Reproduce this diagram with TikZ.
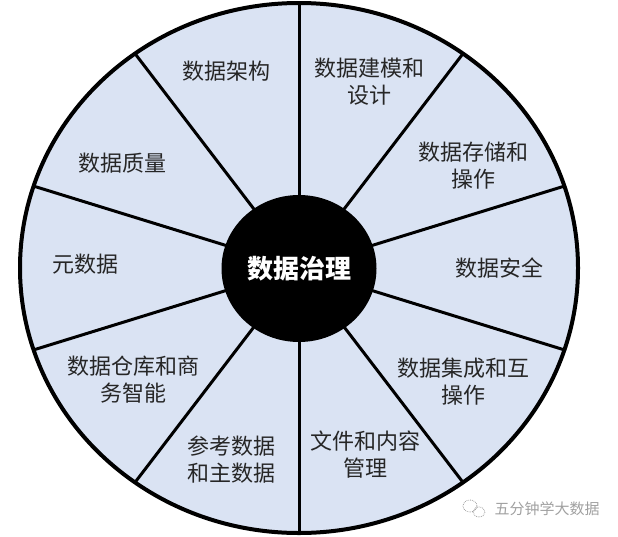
\documentclass[tikz,border=0pt]{standalone}
\usepackage{fontspec}
\setmainfont{Noto Sans CJK SC}
\usepackage{tikz}
\usetikzlibrary{
  positioning,
  shapes.geometric
}
\definecolor{wheelblue}{RGB}{218,227,243}
\definecolor{labelgray}{RGB}{38,38,38}
\definecolor{markgray}{RGB}{160,160,160}
\tikzset{
  seglabel/.style={font=\fontsize{22}{27}\selectfont, text=labelgray, align=center, inner sep=0pt},
  hub/.style={ellipse, fill=black, minimum width=155pt, minimum height=147pt, inner sep=0pt,
    text=white, font=\fontsize{26}{30}\selectfont\bfseries},
  brandmark/.style={font=\fontsize{15}{18}\selectfont, text=markgray, inner sep=0pt}
}

\begin{document}
\begin{tikzpicture}[x=1pt,y=-1pt]
  \useasboundingbox (0,0) rectangle (618,536);

  % wheel and spokes
  \fill[wheelblue] (299,268) ellipse [x radius=279, y radius=265];
  \foreach \a in {18,54,...,342}
    \draw[line width=3pt] (299,268) -- ++({279*cos(\a)},{-265*sin(\a)});
  \draw[line width=4pt] (299,268) ellipse [x radius=279, y radius=265];

  % centre
  \node[hub] (gov) at (299,268.5) {数据治理};

  % segment labels
  \node[seglabel] (arch)     at (226,71)  {数据架构};
  \node[seglabel] (model)    at (369,82)  {数据建模和\\设计};
  \node[seglabel] (storage)  at (473,166) {数据存储和\\操作};
  \node[seglabel] (security) at (499,268) {数据安全};
  \node[seglabel] (integ)    at (463,382) {数据集成和互\\操作};
  \node[seglabel] (docs)     at (365,455) {文件和内容\\管理};
  \node[seglabel] (refdata)  at (231,460) {参考数据\\和主数据};
  \node[seglabel] (dwbi)     at (133,380) {数据仓库和商\\务智能};
  \node[seglabel] (meta)     at (85,264)  {元数据};
  \node[seglabel] (quality)  at (122,163) {数据质量};

  % watermark
  \node[brandmark] (brand) at (547,509) {五分钟学大数据};
  \draw[markgray, densely dotted, line width=0.8pt] (470,506) ellipse [x radius=7, y radius=6];
  \draw[markgray, densely dotted, line width=0.8pt] (479,512) ellipse [x radius=6, y radius=5];

\end{tikzpicture}
\end{document}
